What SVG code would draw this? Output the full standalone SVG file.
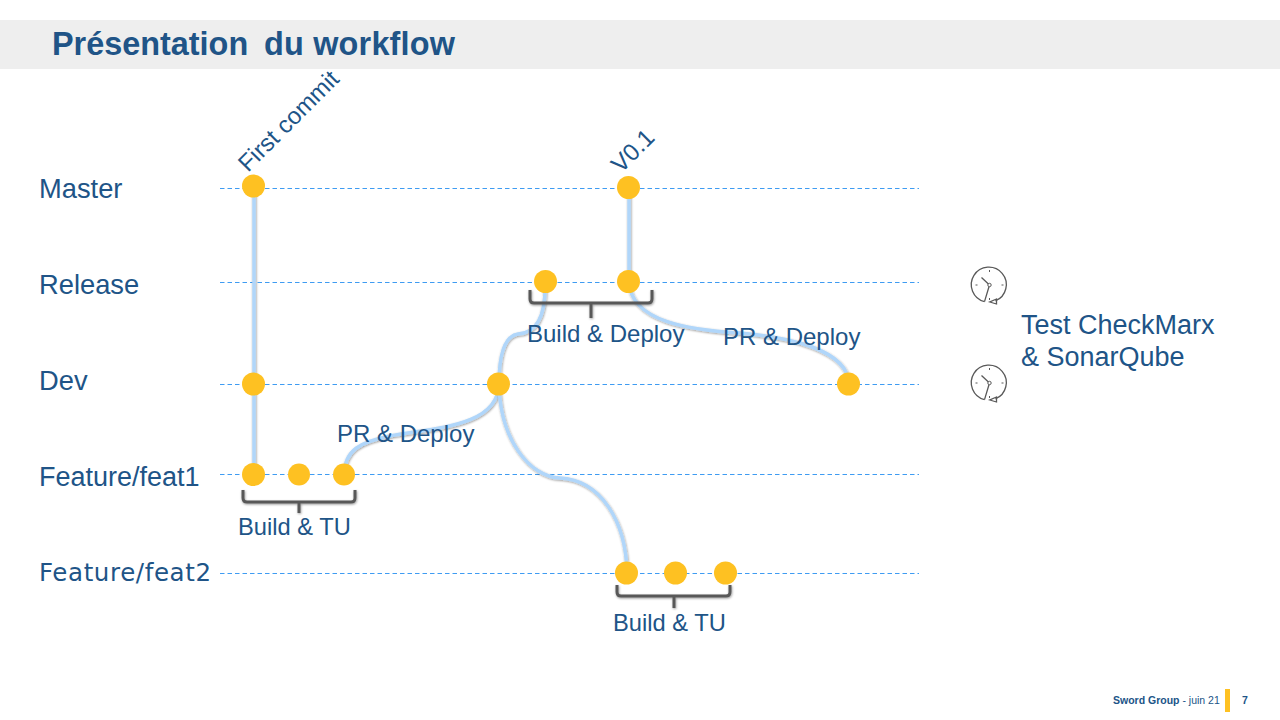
<svg xmlns="http://www.w3.org/2000/svg" width="1280" height="720" viewBox="0 0 1280 720">
<defs>
<filter id="sh" filterUnits="userSpaceOnUse" x="0" y="0" width="1280" height="720"><feDropShadow dx="0.6" dy="1" stdDeviation="0.8" flood-color="#000" flood-opacity="0.4"/></filter>
<g id="clock" fill="none" stroke="#595959">
<path d="M-5 16.600 A17.500 17.500 0 1 1 6 15.800" stroke-width="1.300"/>
<path d="M0 0 L-8 -7.500 M0 0 L-5 16.600" stroke-width="1.300"/>
<circle r="1.700" stroke-width="1" fill="#fff"/>
<path d="M0 -15 V-13 M0 13 V15 M-14 0 H-12 M12 0 H14" stroke-width="1"/>
<path d="M7 14 L0.300 17 L7 19 Z" stroke-width="1.300"/>
</g>
</defs>
<style>
.t{font-family:"Liberation Sans",Arial,sans-serif;fill:#205487}
.l{font-size:27.300px}
.s{font-size:24px}
.guide{stroke:#3f9cf2;stroke-width:1;stroke-dasharray:4.500 3;fill:none}
.branch{fill:none;stroke:#b0d6fa;stroke-width:3.500;filter:url(#sh)}
.brace{fill:none;stroke:#595959;stroke-width:3;filter:url(#sh)}
.n{fill:#fec122}
</style>
<rect id="title-bar" x="0" y="20" width="1280" height="49" fill="#eeeeee"/>
<text class="t" y="55" font-size="32.400" font-weight="700"><tspan x="52">Présentation</tspan><tspan x="264" textLength="191">du workflow</tspan></text>

<g id="labels">
<text class="t l" x="39" y="198">Master</text>
<text class="t l" x="39" y="294">Release</text>
<text class="t l" x="39" y="390">Dev</text>
<text class="t" x="39" y="486" font-size="27">Feature/feat1</text>
<text class="t" x="39" y="581" font-size="24.500" style="font-family:'DejaVu Sans',sans-serif" textLength="172">Feature/feat2</text>
</g>

<g id="connectors">
<g id="guides">
<path class="guide" d="M220 188.500H919"/>
<path class="guide" d="M220 282.500H919"/>
<path class="guide" d="M220 384.500H919"/>
<path class="guide" d="M220 474.500H919"/>
<path class="guide" d="M220 573.500H919"/>
</g>
<g id="branches">
<path class="branch" d="M254 186V474"/>
<path class="branch" d="M629 188V282"/>
<path class="branch" d="M545 282C546 315 538 333 518 334C505 336 499 352 499 384"/>
<path class="branch" d="M629 282C631 322 690 330 740 333C790 337 848 350 849 384"/>
<path class="branch" d="M499 384C498 428 430 428 390 436C360 442 345 450 344 474"/>
<path class="branch" d="M499 384C500 440 530 477 560 478C600 480 626 520 627 573"/>
</g>
<g id="braces">
<path class="brace" d="M243 490V498Q243 502 247 502H351Q355 502 355 498V490M299 502V513"/>
<path class="brace" d="M530 290V299Q530 303 534 303H648Q652 303 652 299V290M591 303V318"/>
<path class="brace" d="M617 585V592Q617 596 621 596H726Q730 596 730 592V585M674 596V608"/>
</g>
</g>

<g id="commit-first"><circle class="n" cx="253.500" cy="186" r="11.500"/></g>
<g id="commit-v01"><circle class="n" cx="628.500" cy="187.500" r="11.500"/></g>
<g id="commit-release-1"><circle class="n" cx="545.500" cy="281.500" r="11.500"/></g>
<g id="commit-release-2"><circle class="n" cx="628.500" cy="281.500" r="11.500"/></g>
<g id="commit-dev-1"><circle class="n" cx="253.500" cy="384" r="11.500"/></g>
<g id="commit-dev-2"><circle class="n" cx="498.500" cy="384" r="11.500"/></g>
<g id="commit-dev-3"><circle class="n" cx="848.500" cy="384" r="11.500"/></g>
<g id="commit-feat1-1"><circle class="n" cx="253.500" cy="474.500" r="11.500"/></g>
<g id="commit-feat1-2"><circle class="n" cx="299" cy="474.500" r="11"/></g>
<g id="commit-feat1-3"><circle class="n" cx="344" cy="474.500" r="11"/></g>
<g id="commit-feat2-1"><circle class="n" cx="626.500" cy="573" r="11.500"/></g>
<g id="commit-feat2-2"><circle class="n" cx="675.500" cy="573" r="11.500"/></g>
<g id="commit-feat2-3"><circle class="n" cx="725.500" cy="573" r="11.500"/></g>

<g id="annotations">
<text class="t s" transform="translate(248,173) rotate(-45)">First commit</text>
<text class="t s" transform="translate(621,174) rotate(-45)">V0.1</text>
<text class="t s" x="527" y="342">Build &amp; Deploy</text>
<text class="t s" x="723" y="345">PR &amp; Deploy</text>
<text class="t s" x="337" y="442">PR &amp; Deploy</text>
<text class="t" x="238" y="535" font-size="23.700">Build &amp; TU</text>
<text class="t" x="613" y="631" font-size="23.700">Build &amp; TU</text>
</g>

<g id="test-note">
<use href="#clock" x="989.500" y="285"/>
<use href="#clock" x="989.500" y="383"/>
<text class="t" x="1021" y="334" font-size="27">Test CheckMarx</text>
<text class="t" x="1021" y="366" font-size="27">&amp; SonarQube</text>
</g>

<g id="footer">
<text class="t" x="1113" y="704" font-size="10.500" font-weight="700">Sword Group<tspan font-weight="400"> - juin 21</tspan></text>
<rect x="1225" y="689" width="5" height="23" fill="#fec122"/>
<text class="t" x="1242" y="704" font-size="10.500" font-weight="700">7</text>
</g>
</svg>
